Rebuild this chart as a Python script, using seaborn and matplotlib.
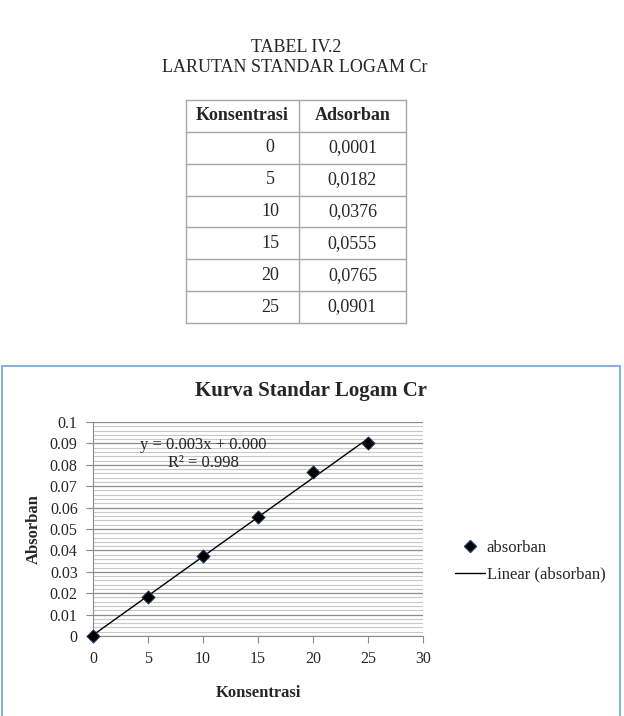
import numpy as np
import pandas as pd
import seaborn as sns
import matplotlib.pyplot as plt
from matplotlib.patches import Rectangle
from matplotlib.lines import Line2D
from matplotlib.ticker import MultipleLocator

konsentrasi = [0, 5, 10, 15, 20, 25]
absorban = [0.0001, 0.0182, 0.0376, 0.0555, 0.0765, 0.0901]
absorban_txt = ['0,0001', '0,0182', '0,0376', '0,0555', '0,0765', '0,0901']
table_header = ['Konsentrasi', 'Adsorban']
x_ticks = [0, 5, 10, 15, 20, 25, 30]
y_ticks = [0, 0.01, 0.02, 0.03, 0.04, 0.05, 0.06, 0.07, 0.08, 0.09, 0.1]
eq_text = 'y = 0.003x + 0.000\nR² = 0.998'

sns.set_theme(style='white')
plt.rcParams['font.family'] = ['Liberation Serif', 'DejaVu Serif']

W, H = 624, 716
fig = plt.figure(figsize=(W / 100, H / 100), dpi=100)


def fx(px):
    return px / W


def fy(py):
    return 1 - py / H


# heading
fig.text(fx(296), fy(48), 'TABEL IV.2', ha='center', va='center', fontsize=13)
fig.text(fx(295), fy(68), 'LARUTAN STANDAR LOGAM Cr', ha='center', va='center', fontsize=13)

# table
tax = fig.add_axes([fx(186), fy(323), fx(220), 223 / H])
tax.set_xlim(0, 220)
tax.set_ylim(len(konsentrasi) + 1, 0)
tax.axis('off')
grid_c = '#a6a6a6'
for r in range(len(konsentrasi) + 2):
    tax.axhline(r, color=grid_c, lw=1, clip_on=False)
for c in [0, 113, 220]:
    tax.axvline(c, color=grid_c, lw=1, clip_on=False)
tax.text(56.5, 0.5, table_header[0], ha='center', va='center', fontsize=13, fontweight='bold')
tax.text(166.5, 0.5, table_header[1], ha='center', va='center', fontsize=13, fontweight='bold')
for i, (k, a) in enumerate(zip(konsentrasi, absorban_txt)):
    tax.text(84, i + 1.5, str(k), ha='center', va='center', fontsize=13)
    tax.text(166.5, i + 1.5, a, ha='center', va='center', fontsize=13)

# chart border
fig.patches.append(Rectangle((fx(2), fy(720)), fx(618), (720 - 366) / H,
                             transform=fig.transFigure, fill=False,
                             edgecolor='#8eb0d8', lw=1.5))

fig.text(fx(311), fy(391), 'Kurva Standar Logam Cr', ha='center', va='center',
         fontsize=15, fontweight='bold')

ax = fig.add_axes([fx(93), fy(636), fx(330), 214 / H])
df = pd.DataFrame({'Konsentrasi': konsentrasi, 'absorban': absorban})

ax.set_xlim(0, 30)
ax.set_ylim(0, 0.1)
ax.yaxis.set_minor_locator(MultipleLocator(0.002))
ax.grid(True, which='minor', axis='y', color='#c8c8c8', lw=0.8)
ax.grid(True, which='major', axis='y', color='#8c8c8c', lw=0.9)
ax.grid(False, axis='x')
ax.set_axisbelow(True)

sns.regplot(data=df, x='Konsentrasi', y='absorban', scatter=False, ci=None,
            truncate=True, color='black', line_kws={'lw': 1}, ax=ax)
sns.scatterplot(data=df, x='Konsentrasi', y='absorban', marker='D', s=45,
                color='black', edgecolor='#1f3864', linewidth=0.6, zorder=5,
                clip_on=False, ax=ax, legend=False)

ax.set_xlim(0, 30)
ax.set_ylim(0, 0.1)
ax.set_xticks(x_ticks)
ax.set_xticklabels([str(t) for t in x_ticks])
ax.set_yticks(y_ticks)
ax.set_yticklabels(['0'] + [f'{t:g}' for t in y_ticks[1:]])
ax.tick_params(axis='both', which='major', labelsize=11.5, length=5, width=0.8,
               color='#8c8c8c', direction='out', bottom=True, left=True, pad=6)
ax.tick_params(axis='y', which='minor', length=0)
for s in ['top', 'right']:
    ax.spines[s].set_visible(False)
for s in ['left', 'bottom']:
    ax.spines[s].set_color('#8c8c8c')
    ax.spines[s].set_linewidth(0.8)

ax.set_xlabel('Konsentrasi', fontsize=12, fontweight='bold', labelpad=13)
ax.set_ylabel('Absorban', fontsize=12, fontweight='bold', labelpad=6)

ax.text(10, 0.0852, eq_text, ha='center', va='center', fontsize=12,
        linespacing=1.15)

handles = [
    Line2D([], [], marker='D', color='black', markeredgecolor='#1f3864',
           linestyle='none', markersize=6),
    Line2D([], [], color='black', lw=1),
]
fig.legend(handles, ['absorban', 'Linear (absorban)'], loc='center left',
           bbox_to_anchor=(fx(440), fy(561)), frameon=False, fontsize=12,
           handlelength=1.8, handletextpad=0.1, labelspacing=0.65)

fig.savefig('out.png', dpi=100)
